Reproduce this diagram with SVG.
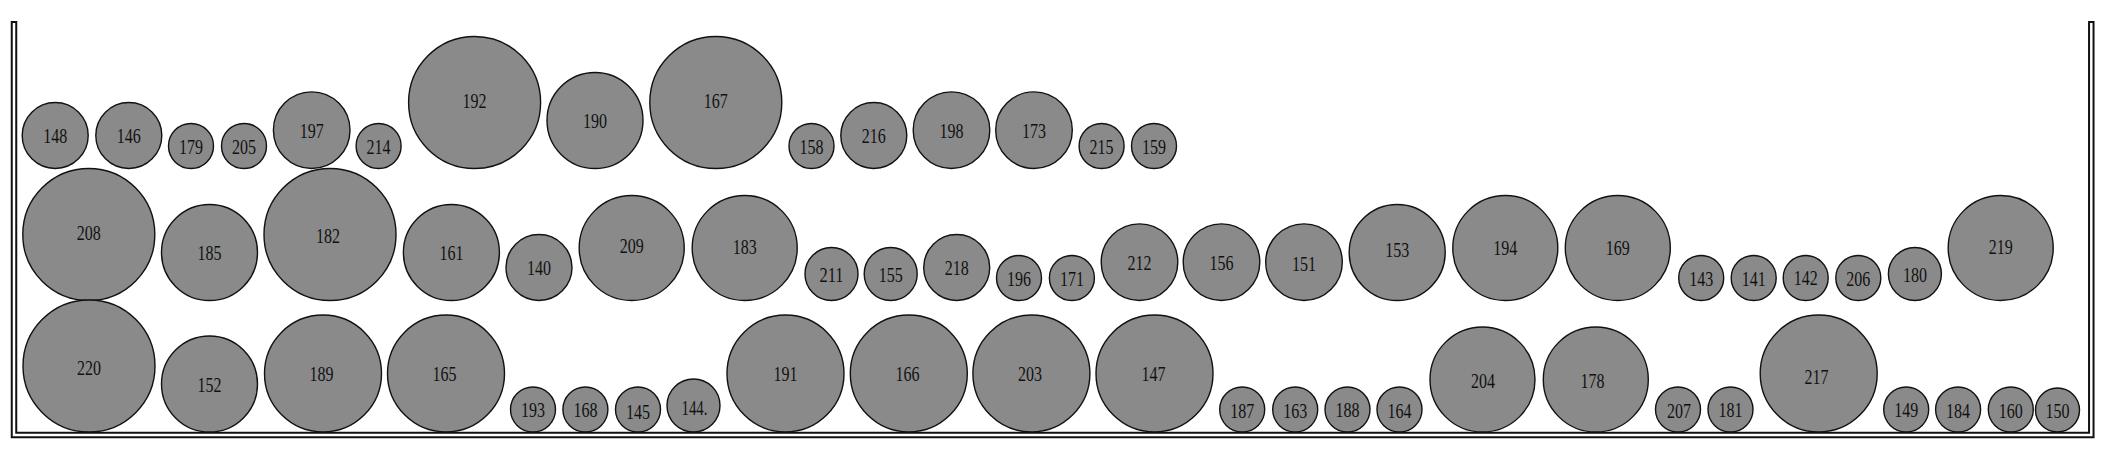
<svg xmlns="http://www.w3.org/2000/svg" width="2109" height="453" viewBox="0 0 2109 453">
<style>
.c{fill:#8a8a8a;stroke:#111;stroke-width:1.4}
.t{font-family:"Liberation Serif","Times New Roman",serif;font-size:22px;fill:#111;text-anchor:middle}
.wo{fill:none;stroke:#111;stroke-width:6.5;stroke-linejoin:miter}
.wi{fill:none;stroke:#fff;stroke-width:2.5;stroke-linejoin:miter}
</style>
<rect width="2109" height="453" fill="#fff"/>
<g id="container">
<path class="wo" d="M14 21 V435 H2091.3 V21"/>
<path class="wi" d="M14 23 V435 H2091.3 V23"/>
</g>
<g id="n148"><circle class="c" cx="55.2" cy="135.5" r="33"/><text class="t" x="55.2" y="143" textLength="24" lengthAdjust="spacingAndGlyphs">148</text></g>
<g id="n146"><circle class="c" cx="128.8" cy="135.5" r="33"/><text class="t" x="128.8" y="143" textLength="24" lengthAdjust="spacingAndGlyphs">146</text></g>
<g id="n179"><circle class="c" cx="191" cy="146" r="22.5"/><text class="t" x="191" y="153.5" textLength="24" lengthAdjust="spacingAndGlyphs">179</text></g>
<g id="n205"><circle class="c" cx="244" cy="146" r="22.5"/><text class="t" x="244" y="153.5" textLength="24" lengthAdjust="spacingAndGlyphs">205</text></g>
<g id="n197"><circle class="c" cx="311.7" cy="130.2" r="38.3"/><text class="t" x="311.7" y="137.7" textLength="24" lengthAdjust="spacingAndGlyphs">197</text></g>
<g id="n214"><circle class="c" cx="378.6" cy="146" r="22.5"/><text class="t" x="378.6" y="153.5" textLength="24" lengthAdjust="spacingAndGlyphs">214</text></g>
<g id="n192"><circle class="c" cx="474.6" cy="102.5" r="66"/><text class="t" x="474.6" y="108" textLength="24" lengthAdjust="spacingAndGlyphs">192</text></g>
<g id="n190"><circle class="c" cx="595" cy="120.5" r="48"/><text class="t" x="595" y="128" textLength="24" lengthAdjust="spacingAndGlyphs">190</text></g>
<g id="n167"><circle class="c" cx="715.8" cy="102.5" r="66"/><text class="t" x="715.8" y="108" textLength="24" lengthAdjust="spacingAndGlyphs">167</text></g>
<g id="n158"><circle class="c" cx="811.5" cy="146" r="22.5"/><text class="t" x="811.5" y="153.5" textLength="24" lengthAdjust="spacingAndGlyphs">158</text></g>
<g id="n216"><circle class="c" cx="873.8" cy="135.5" r="33"/><text class="t" x="873.8" y="143" textLength="24" lengthAdjust="spacingAndGlyphs">216</text></g>
<g id="n198"><circle class="c" cx="951.5" cy="130.2" r="38.3"/><text class="t" x="951.5" y="137.7" textLength="24" lengthAdjust="spacingAndGlyphs">198</text></g>
<g id="n173"><circle class="c" cx="1034" cy="130.2" r="38.3"/><text class="t" x="1034" y="137.7" textLength="24" lengthAdjust="spacingAndGlyphs">173</text></g>
<g id="n215"><circle class="c" cx="1101.6" cy="146" r="22.5"/><text class="t" x="1101.6" y="153.5" textLength="24" lengthAdjust="spacingAndGlyphs">215</text></g>
<g id="n159"><circle class="c" cx="1154" cy="146" r="22.5"/><text class="t" x="1154" y="153.5" textLength="24" lengthAdjust="spacingAndGlyphs">159</text></g>
<g id="n208"><circle class="c" cx="88.8" cy="234.5" r="66"/><text class="t" x="88.8" y="240" textLength="24" lengthAdjust="spacingAndGlyphs">208</text></g>
<g id="n185"><circle class="c" cx="209.5" cy="252.5" r="48"/><text class="t" x="209.5" y="260" textLength="24" lengthAdjust="spacingAndGlyphs">185</text></g>
<g id="n182"><circle class="c" cx="330" cy="234.5" r="66"/><text class="t" x="328" y="243" textLength="24" lengthAdjust="spacingAndGlyphs">182</text></g>
<g id="n161"><circle class="c" cx="451.4" cy="252.5" r="48"/><text class="t" x="451.4" y="260" textLength="24" lengthAdjust="spacingAndGlyphs">161</text></g>
<g id="n140"><circle class="c" cx="539" cy="267.5" r="33"/><text class="t" x="539" y="275" textLength="24" lengthAdjust="spacingAndGlyphs">140</text></g>
<g id="n209"><circle class="c" cx="631.7" cy="248" r="52.5"/><text class="t" x="631.7" y="253" textLength="24" lengthAdjust="spacingAndGlyphs">209</text></g>
<g id="n183"><circle class="c" cx="744.7" cy="248" r="52.5"/><text class="t" x="744.7" y="254" textLength="24" lengthAdjust="spacingAndGlyphs">183</text></g>
<g id="n211"><circle class="c" cx="831.5" cy="274" r="26.5"/><text class="t" x="831.5" y="281.5" textLength="24" lengthAdjust="spacingAndGlyphs">211</text></g>
<g id="n155"><circle class="c" cx="890.7" cy="274" r="26.5"/><text class="t" x="890.7" y="281.5" textLength="24" lengthAdjust="spacingAndGlyphs">155</text></g>
<g id="n218"><circle class="c" cx="956.7" cy="267.5" r="33"/><text class="t" x="956.7" y="275" textLength="24" lengthAdjust="spacingAndGlyphs">218</text></g>
<g id="n196"><circle class="c" cx="1019" cy="278" r="22.5"/><text class="t" x="1019" y="285.5" textLength="24" lengthAdjust="spacingAndGlyphs">196</text></g>
<g id="n171"><circle class="c" cx="1071.9" cy="278" r="22.5"/><text class="t" x="1071.9" y="285.5" textLength="24" lengthAdjust="spacingAndGlyphs">171</text></g>
<g id="n212"><circle class="c" cx="1139.5" cy="262.2" r="38.3"/><text class="t" x="1139.5" y="269.7" textLength="24" lengthAdjust="spacingAndGlyphs">212</text></g>
<g id="n156"><circle class="c" cx="1221.5" cy="262.2" r="38.3"/><text class="t" x="1221.5" y="269.7" textLength="24" lengthAdjust="spacingAndGlyphs">156</text></g>
<g id="n151"><circle class="c" cx="1304" cy="262.2" r="38.3"/><text class="t" x="1304" y="271" textLength="24" lengthAdjust="spacingAndGlyphs">151</text></g>
<g id="n153"><circle class="c" cx="1397.2" cy="252.5" r="48"/><text class="t" x="1397.2" y="257" textLength="24" lengthAdjust="spacingAndGlyphs">153</text></g>
<g id="n194"><circle class="c" cx="1505.3" cy="248" r="52.5"/><text class="t" x="1505.3" y="255" textLength="24" lengthAdjust="spacingAndGlyphs">194</text></g>
<g id="n169"><circle class="c" cx="1617.8" cy="248" r="52.5"/><text class="t" x="1617.8" y="255" textLength="24" lengthAdjust="spacingAndGlyphs">169</text></g>
<g id="n143"><circle class="c" cx="1701.2" cy="278" r="22.5"/><text class="t" x="1701.2" y="285.5" textLength="24" lengthAdjust="spacingAndGlyphs">143</text></g>
<g id="n141"><circle class="c" cx="1753.7" cy="278" r="22.5"/><text class="t" x="1753.7" y="285.5" textLength="24" lengthAdjust="spacingAndGlyphs">141</text></g>
<g id="n142"><circle class="c" cx="1805.7" cy="278" r="22.5"/><text class="t" x="1805.7" y="285" textLength="24" lengthAdjust="spacingAndGlyphs">142</text></g>
<g id="n206"><circle class="c" cx="1858.3" cy="278" r="22.5"/><text class="t" x="1858.3" y="285.5" textLength="24" lengthAdjust="spacingAndGlyphs">206</text></g>
<g id="n180"><circle class="c" cx="1914.9" cy="274" r="26.5"/><text class="t" x="1914.9" y="281.5" textLength="24" lengthAdjust="spacingAndGlyphs">180</text></g>
<g id="n219"><circle class="c" cx="2000.7" cy="248" r="52.5"/><text class="t" x="2000.7" y="254" textLength="24" lengthAdjust="spacingAndGlyphs">219</text></g>
<g id="n220"><circle class="c" cx="89" cy="366" r="66"/><text class="t" x="89" y="374.5" textLength="24" lengthAdjust="spacingAndGlyphs">220</text></g>
<g id="n152"><circle class="c" cx="209.5" cy="384" r="48"/><text class="t" x="209.5" y="392" textLength="24" lengthAdjust="spacingAndGlyphs">152</text></g>
<g id="n189"><circle class="c" cx="323" cy="373.5" r="58.5"/><text class="t" x="321.5" y="381" textLength="24" lengthAdjust="spacingAndGlyphs">189</text></g>
<g id="n165"><circle class="c" cx="446" cy="373.5" r="58.5"/><text class="t" x="444.5" y="381" textLength="24" lengthAdjust="spacingAndGlyphs">165</text></g>
<g id="n193"><circle class="c" cx="533" cy="409.5" r="22.5"/><text class="t" x="533" y="417" textLength="24" lengthAdjust="spacingAndGlyphs">193</text></g>
<g id="n168"><circle class="c" cx="585.4" cy="409.5" r="22.5"/><text class="t" x="585.4" y="417" textLength="24" lengthAdjust="spacingAndGlyphs">168</text></g>
<g id="n145"><circle class="c" cx="638" cy="409.5" r="22.5"/><text class="t" x="638" y="419" textLength="24" lengthAdjust="spacingAndGlyphs">145</text></g>
<g id="n144"><circle class="c" cx="693.5" cy="405.5" r="26.5"/><text class="t" x="694.5" y="415" textLength="26" lengthAdjust="spacingAndGlyphs">144.</text></g>
<g id="n191"><circle class="c" cx="785.5" cy="373.5" r="58.5"/><text class="t" x="785.5" y="381" textLength="24" lengthAdjust="spacingAndGlyphs">191</text></g>
<g id="n166"><circle class="c" cx="908.8" cy="373.5" r="58.5"/><text class="t" x="907.5" y="381" textLength="24" lengthAdjust="spacingAndGlyphs">166</text></g>
<g id="n203"><circle class="c" cx="1031.4" cy="373.5" r="58.5"/><text class="t" x="1030" y="381" textLength="24" lengthAdjust="spacingAndGlyphs">203</text></g>
<g id="n147"><circle class="c" cx="1154.5" cy="373.5" r="58.5"/><text class="t" x="1153.5" y="381" textLength="24" lengthAdjust="spacingAndGlyphs">147</text></g>
<g id="n187"><circle class="c" cx="1242.2" cy="409.5" r="22.5"/><text class="t" x="1242.2" y="417.5" textLength="24" lengthAdjust="spacingAndGlyphs">187</text></g>
<g id="n163"><circle class="c" cx="1295.2" cy="409.5" r="22.5"/><text class="t" x="1295.2" y="417.5" textLength="24" lengthAdjust="spacingAndGlyphs">163</text></g>
<g id="n188"><circle class="c" cx="1347.5" cy="409.5" r="22.5"/><text class="t" x="1347.5" y="417" textLength="24" lengthAdjust="spacingAndGlyphs">188</text></g>
<g id="n164"><circle class="c" cx="1399.5" cy="409.5" r="22.5"/><text class="t" x="1399.5" y="417.5" textLength="24" lengthAdjust="spacingAndGlyphs">164</text></g>
<g id="n204"><circle class="c" cx="1482.5" cy="379.5" r="52.5"/><text class="t" x="1483" y="388" textLength="24" lengthAdjust="spacingAndGlyphs">204</text></g>
<g id="n178"><circle class="c" cx="1595.8" cy="379.5" r="52.5"/><text class="t" x="1592.5" y="388" textLength="24" lengthAdjust="spacingAndGlyphs">178</text></g>
<g id="n207"><circle class="c" cx="1678" cy="409.5" r="22.5"/><text class="t" x="1679" y="417.5" textLength="24" lengthAdjust="spacingAndGlyphs">207</text></g>
<g id="n181"><circle class="c" cx="1730.5" cy="409.5" r="22.5"/><text class="t" x="1730.5" y="417" textLength="24" lengthAdjust="spacingAndGlyphs">181</text></g>
<g id="n217"><circle class="c" cx="1818.7" cy="373.5" r="58.5"/><text class="t" x="1816.5" y="384" textLength="24" lengthAdjust="spacingAndGlyphs">217</text></g>
<g id="n149"><circle class="c" cx="1906.2" cy="409.5" r="22.5"/><text class="t" x="1906.2" y="417" textLength="24" lengthAdjust="spacingAndGlyphs">149</text></g>
<g id="n184"><circle class="c" cx="1958.1" cy="409.5" r="22.5"/><text class="t" x="1958.1" y="418" textLength="24" lengthAdjust="spacingAndGlyphs">184</text></g>
<g id="n160"><circle class="c" cx="2010.8" cy="409.5" r="22.5"/><text class="t" x="2010.8" y="417.5" textLength="24" lengthAdjust="spacingAndGlyphs">160</text></g>
<g id="n150"><circle class="c" cx="2057.5" cy="410" r="22"/><text class="t" x="2057.5" y="417.5" textLength="24" lengthAdjust="spacingAndGlyphs">150</text></g>
</svg>
